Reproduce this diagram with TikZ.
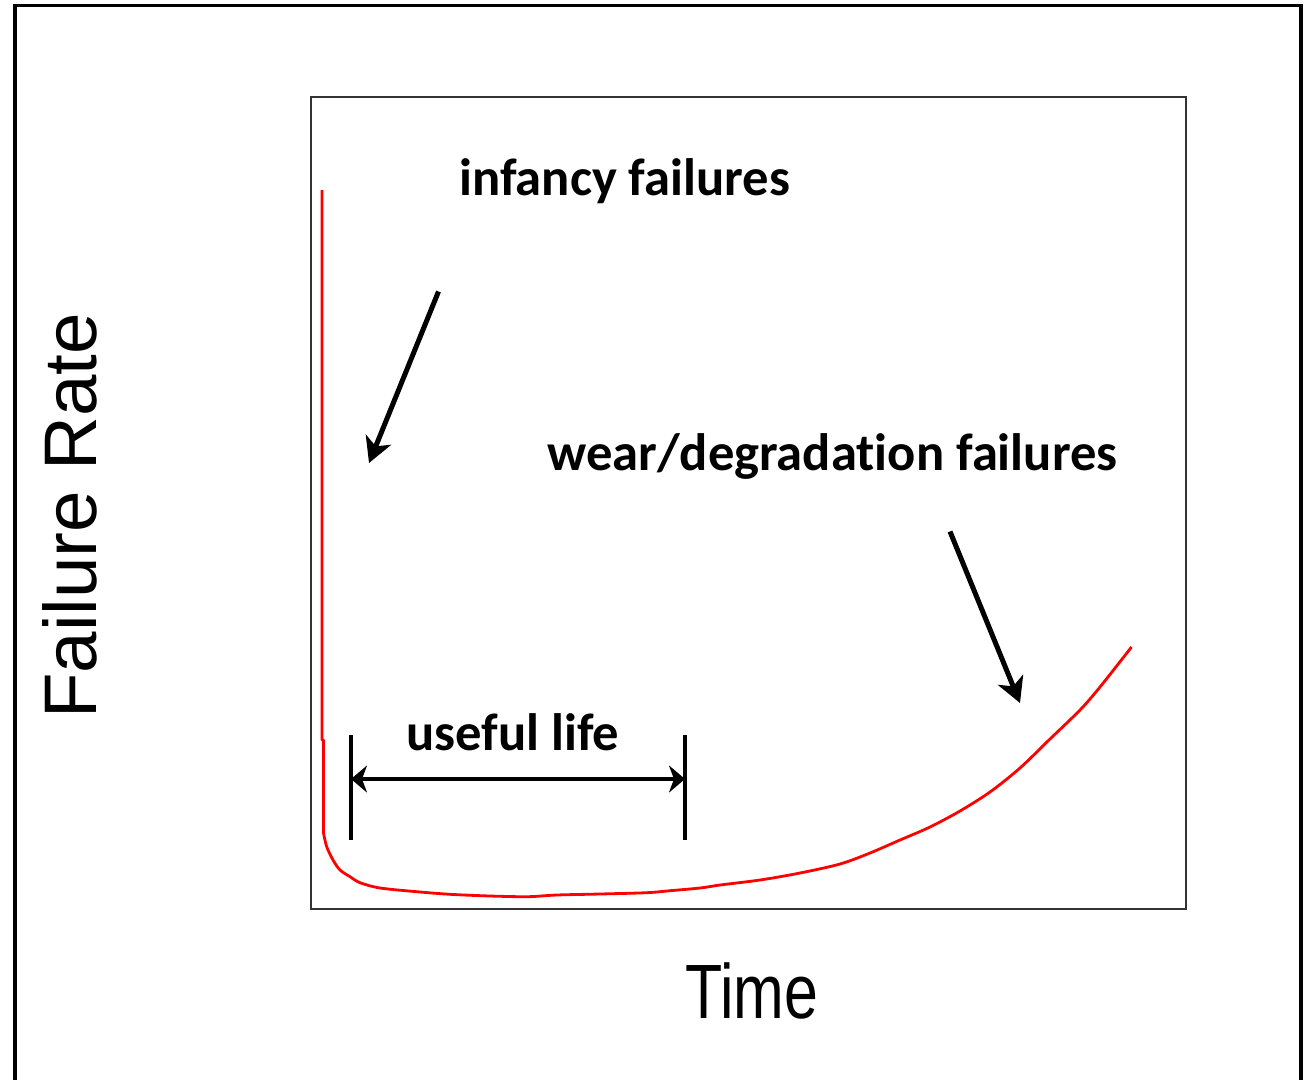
\documentclass[tikz,border=0pt]{standalone}
\usepackage{fontspec}
\setmainfont{Liberation Sans}
\newfontfamily\calfont[Ligatures={NoCommon,NoDiscretionary,NoRare}]{Carlito}
\newfontfamily\arialfont{Liberation Sans}
\usetikzlibrary{arrows.meta}
\begin{document}
\begin{tikzpicture}[x=1pt,y=-1pt,
  lbl/.style={inner sep=0pt,anchor=base west,font=\calfont\bfseries\fontsize{52.6}{60}\selectfont},
  axlbl/.style={inner sep=0pt,anchor=base west},
  pointer/.style={line width=5pt,-{Stealth[length=25pt,width=27pt,inset=7pt]}},
  span/.style={line width=4pt,{Stealth[length=16pt,width=27pt,inset=5pt]}-{Stealth[length=16pt,width=27pt,inset=5pt]}},
  bar/.style={line width=4.6pt},
  curve/.style={red,line width=2.8pt,line join=round}]
\useasboundingbox (0,0) rectangle (1306,1079);
\clip (0,0) rectangle (1306,1079);
\fill[white] (0,0) rectangle (1306,1079);
% outer frame (bottom edge lies outside the picture)
\draw[line width=3.8pt,black] (15,1090) -- (15,5.5) -- (1301,5.5) -- (1301,1090);
% plot box
\draw[line width=2.4pt,black!80] (311,97) rectangle (1186,909);
% bathtub curve
\draw[curve] (322,190) -- (322,740) -- (323.5,740) -- (323.5,833)
  plot[smooth,tension=0.5] coordinates {(323.5,833) (326.7,846.7) (333,860) (340,870) (350,876.7) (360,882.7) (380,888) (416.7,891.7) (450,894.3) (490,896) (528,896.7) (556.7,895) (600,894) (646.7,892.7) (670,890.7) (700,888) (720,885) (760,880) (800,873) (840,864) (870,853) (900,840) (930,827) (960,811) (990,792) (1020,768) (1050,739) (1080,710) (1100,687) (1131.5,647)};
% labels
\node[lbl] (inf) at (459,195) {infancy failures};
\node[lbl] (wear) at (547,470) {wear/degradat\kern0pt ion failures};
\node[lbl] (use) at (406,750) {useful life};
\node[axlbl,rotate=90,font=\arialfont\fontsize{74.5}{80}\selectfont] (yl) at (96,719) {Failure Rate};
\node[axlbl,xscale=0.79,font=\arialfont\fontsize{77}{84}\selectfont] (xl) at (685,1018) {Time};
% pointers
\coordinate (infA) at (438.5,291.5);
\coordinate (infB) at (369,463);
\coordinate (wearA) at (950,531.5);
\coordinate (wearB) at (1020,703);
\draw[pointer] (infA) -- (infB);
\draw[pointer] (wearA) -- (wearB);
% useful life span
\coordinate (b1t) at (351,735);
\coordinate (b1b) at (351,840);
\coordinate (b2t) at (685,735);
\coordinate (b2b) at (685,840);
\coordinate (s1) at (351,779);
\coordinate (s2) at (685,779);
\draw[bar] (b1t) -- (b1b);
\draw[bar] (b2t) -- (b2b);
\draw[span] (s1) -- (s2);
\end{tikzpicture}
\end{document}
